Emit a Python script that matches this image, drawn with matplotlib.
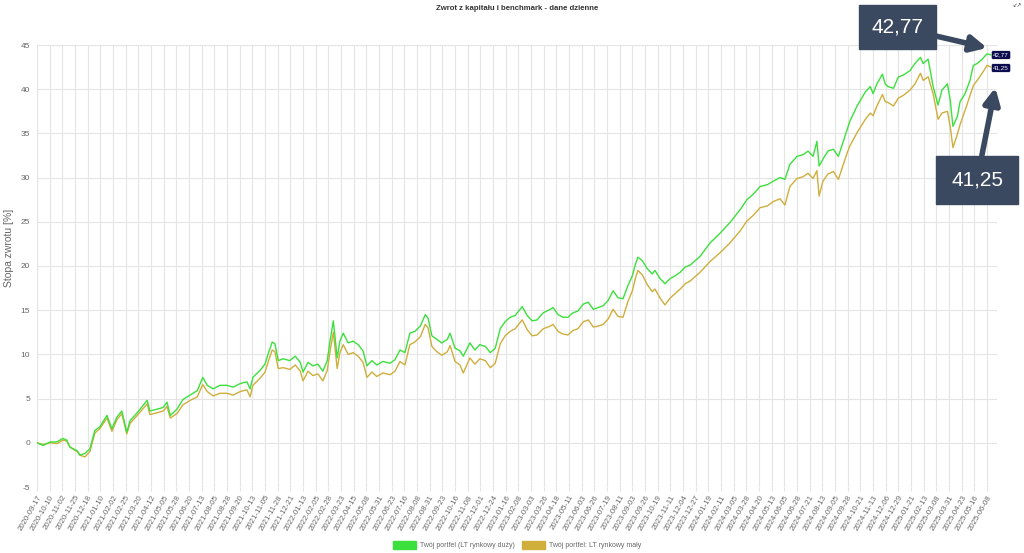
import numpy as np
import pandas as pd
import matplotlib
matplotlib.use("Agg")
import matplotlib.pyplot as plt
from matplotlib.patches import Patch

# Data (days since 2020-09-17, cumulative return in %)
START = "2020-09-17"
days = [0, 11, 24, 36, 47, 54, 60, 73, 78, 87, 96, 105, 114, 127, 136, 145, 154, 163, 169, 182,
        200, 205, 218, 229, 236, 242, 254, 265, 278, 291, 301, 309, 320, 332, 345, 356, 369, 381, 387, 392,
        405, 414, 420, 427, 432, 438, 447, 459, 469, 478, 483, 492, 501, 510, 519, 527, 532, 538, 545, 550,
        556, 565, 574, 583, 592, 599, 608, 617, 628, 641, 650, 659, 668, 677, 686, 696, 705, 710, 717, 726,
        735, 745, 750, 759, 768, 774, 786, 795, 804, 814, 823, 832, 841, 850, 859, 868, 881, 890, 899, 908,
        919, 932, 937, 946, 955, 964, 973, 982, 992, 1001, 1010, 1019, 1028, 1037, 1046, 1055, 1064, 1073, 1081, 1086,
        1091, 1099, 1108, 1117, 1122, 1131, 1140, 1150, 1159, 1168, 1177, 1186, 1195, 1204, 1222, 1240, 1258, 1277, 1289, 1300,
        1313, 1326, 1337, 1349, 1358, 1367, 1380, 1391, 1400, 1409, 1416, 1420, 1427, 1436, 1446, 1455, 1464, 1471, 1476, 1489,
        1504, 1513, 1518, 1525, 1535, 1540, 1545, 1555, 1564, 1573, 1585, 1594, 1604, 1609, 1618, 1627, 1636, 1643, 1653, 1658,
        1663, 1671, 1676, 1685, 1694, 1700, 1707, 1716, 1725, 1736]

portfel_duzy = [0.0, -0.3, 0.1, 0.1, 0.5, 0.3, -0.5, -0.9, -1.4, -1.2, -0.7, 1.4, 1.8, 3.1, 1.6, 2.9, 3.6, 1.2, 2.5, 3.4,
                4.8, 3.6, 3.8, 4.0, 4.6, 3.1, 3.8, 4.9, 5.4, 5.9, 7.4, 6.5, 6.1, 6.5, 6.5, 6.3, 6.7, 6.9, 6.1, 7.4,
                8.2, 8.9, 10.1, 11.4, 11.2, 9.3, 9.5, 9.3, 9.8, 9.1, 8.0, 9.1, 8.7, 8.9, 8.1, 9.3, 11.5, 13.8, 9.6, 11.5,
                12.4, 11.3, 11.5, 11.1, 10.4, 8.7, 9.3, 8.8, 9.2, 9.0, 9.4, 10.5, 10.2, 12.4, 12.6, 13.2, 14.5, 14.1, 12.1, 11.7,
                11.3, 11.7, 12.4, 10.7, 10.4, 9.8, 11.3, 10.5, 11.1, 10.9, 10.2, 10.7, 12.9, 13.7, 14.2, 14.4, 15.4, 14.4, 13.8, 13.9,
                14.7, 15.1, 15.3, 14.5, 14.2, 14.2, 14.7, 14.9, 15.7, 15.9, 15.1, 15.3, 15.5, 16.1, 17.2, 16.4, 16.3, 17.8, 18.9, 20.1,
                21.0, 20.6, 19.7, 19.1, 19.5, 18.6, 18.0, 18.6, 18.9, 19.3, 19.9, 20.1, 20.6, 21.1, 22.6, 23.7, 24.9, 26.4, 27.5, 28.1,
                29.0, 29.2, 29.6, 30.0, 29.8, 31.5, 32.4, 32.6, 33.0, 32.4, 34.1, 31.3, 32.1, 33.0, 33.2, 32.4, 34.1, 35.4, 36.4, 38.1,
                39.7, 40.3, 39.5, 40.6, 41.7, 40.6, 40.3, 40.1, 41.4, 41.6, 42.1, 42.9, 43.6, 42.9, 43.4, 40.3, 38.2, 39.9, 40.6, 38.8,
                35.8, 36.9, 38.6, 39.5, 41.0, 42.7, 42.9, 43.4, 44.0, 43.8]

portfel_maly = [0.0, -0.2, 0.0, -0.1, 0.3, 0.2, -0.5, -1.0, -1.4, -1.6, -1.0, 1.1, 1.6, 2.8, 1.3, 2.6, 3.3, 1.0, 2.2, 3.1,
                4.4, 3.2, 3.4, 3.6, 4.1, 2.8, 3.3, 4.3, 4.8, 5.2, 6.6, 5.8, 5.3, 5.6, 5.6, 5.4, 5.8, 6.0, 5.2, 6.5,
                7.3, 8.0, 9.2, 10.5, 10.3, 8.4, 8.5, 8.3, 8.8, 8.1, 7.0, 8.1, 7.6, 7.8, 7.0, 8.2, 10.3, 12.5, 8.4, 10.2,
                11.1, 10.0, 10.2, 9.8, 9.1, 7.4, 8.0, 7.5, 7.9, 7.7, 8.1, 9.2, 8.8, 11.1, 11.4, 12.0, 13.4, 13.0, 10.9, 10.3,
                9.9, 10.3, 11.0, 9.2, 8.8, 7.9, 9.6, 8.9, 9.5, 9.3, 8.5, 9.0, 11.2, 12.1, 12.6, 12.9, 13.9, 12.8, 12.1, 12.2,
                12.9, 13.2, 13.4, 12.6, 12.3, 12.2, 12.7, 12.9, 13.7, 13.9, 13.1, 13.2, 13.4, 14.0, 15.1, 14.3, 14.2, 16.0, 17.2, 18.5,
                19.5, 19.0, 17.9, 17.1, 17.4, 16.4, 15.6, 16.4, 16.9, 17.4, 18.0, 18.3, 18.8, 19.3, 20.5, 21.5, 22.6, 24.0, 25.1, 25.7,
                26.6, 26.8, 27.3, 27.6, 26.9, 29.0, 29.9, 30.1, 30.5, 29.9, 30.8, 27.9, 29.6, 30.4, 30.7, 29.8, 31.5, 32.8, 33.6, 35.1,
                36.6, 37.3, 37.0, 38.1, 39.4, 38.6, 38.5, 38.1, 39.0, 39.3, 39.9, 40.6, 41.8, 41.0, 41.4, 39.5, 36.6, 37.3, 37.5, 35.8,
                33.4, 34.9, 36.0, 37.6, 39.3, 40.4, 41.0, 41.8, 42.7, 42.4]

last_duzy = "42,77"
last_maly = "41,25"
labels = ["Twój portfel (LT rynkowy duży)", "Twój portfel: LT rynkowy mały"]
title = "Zwrot z kapitału i benchmark - dane dzienne"
y_label = "Stopa zwrotu [%]"

GREEN = "#3ce03c"
GOLD = "#cfae3c"
SLATE = "#3a4860"
NAVY = "#0b0b4e"
GRID = "#e4e4e4"
TXT = "#666666"

plt.rcParams['font.family'] = ['Liberation Sans', 'DejaVu Sans']
plt.rcParams['axes.unicode_minus'] = False

fig = plt.figure(figsize=(10.24, 5.53), dpi=100)
ax = fig.add_axes([37 / 1024, 1 - 487 / 553, 960 / 1024, 442 / 553])

ax.plot(days, portfel_maly, color=GOLD, lw=1.0, zorder=3)
ax.plot(days, portfel_duzy, color=GREEN, lw=1.0, zorder=4)

# ticks every 23 days
tick_pos = np.arange(0, 1726, 23)
tick_lab = [d.strftime("%Y-%m-%d") for d in pd.Timestamp(START) + pd.to_timedelta(tick_pos, unit="D")]
ax.set_xticks(tick_pos)
ax.set_xticklabels(tick_lab, rotation=60, ha="right", rotation_mode="anchor", fontsize=5.6, color=TXT)
ax.set_xlim(0, 1743)
ax.set_ylim(-5, 45)
ax.set_yticks(np.arange(-5, 46, 5))
ax.tick_params(axis="y", labelsize=6, labelcolor=TXT, length=0, pad=5)
ax.tick_params(axis="x", length=3, color=GRID, pad=2)
ax.grid(True, color=GRID, lw=0.8)
ax.set_axisbelow(True)
for s in ax.spines.values():
  s.set_visible(False)

ax.set_ylabel(y_label, fontsize=7.5, color=TXT)
ax.yaxis.set_label_coords(-0.024, 0.54)
fig.text(0.505, 1 - 9 / 553, title, ha="center", va="center", fontsize=5.6, fontweight="bold", color="#333333")

# legend
handles = [Patch(facecolor=GREEN, edgecolor=GREEN), Patch(facecolor=GOLD, edgecolor=GOLD)]
fig.legend(handles, labels, loc="center", bbox_to_anchor=(0.505, 1 - 545 / 553), ncol=2, frameon=False,
           fontsize=5, handlelength=3.3, handleheight=1.4, columnspacing=1.0, handletextpad=0.6,
           labelcolor=TXT)

# small value tags at the line ends
fig.text(1001 / 1024, 1 - 55 / 553, last_duzy, ha="center", va="center", fontsize=4.5, color="white",
         bbox=dict(boxstyle="round,pad=0.3", fc=NAVY, ec="white", lw=0.5))
fig.text(1001 / 1024, 1 - 68 / 553, last_maly, ha="center", va="center", fontsize=4.5, color="white",
         bbox=dict(boxstyle="round,pad=0.3", fc=NAVY, ec="white", lw=0.5))

# callouts
arrow = dict(arrowstyle="-|>", color=SLATE, lw=4, mutation_scale=24, shrinkA=0, shrinkB=2)
ax.annotate(last_duzy, xy=(1730, 44.6), xycoords="data",
            xytext=(897, 553 - 27), textcoords="figure pixels",
            ha="center", va="center", fontsize=15, color="white", annotation_clip=False,
            bbox=dict(boxstyle="square,pad=0.6", fc=SLATE, ec=SLATE),
            arrowprops=arrow)
ax.annotate(last_maly, xy=(1741, 40.5), xycoords="data",
            xytext=(977, 553 - 180), textcoords="figure pixels",
            ha="center", va="center", fontsize=15, color="white", annotation_clip=False,
            bbox=dict(boxstyle="square,pad=0.7", fc=SLATE, ec=SLATE),
            arrowprops=arrow)

fig.text(1017 / 1024, 1 - 6 / 553, "↙↗", ha="center", va="center", fontsize=4, color="#444444",
         family=['DejaVu Sans'])

fig.savefig("out.png", dpi=100, facecolor="white")
